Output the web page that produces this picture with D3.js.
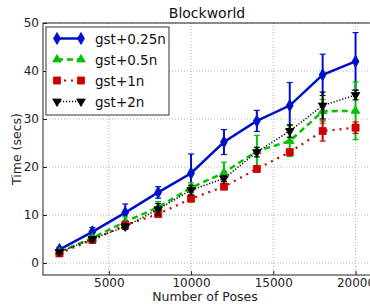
<!DOCTYPE html>
<html>
<head>
<meta charset="utf-8">
<script src="https://cdn.jsdelivr.net/npm/d3@7"></script>
<style>
  body { margin: 0; background: #fff; }
  svg { display: block; font-family: "DejaVu Sans", sans-serif; }
</style>
</head>
<body>
<div id="chart"></div>
<script>
// values
var poses = [2000, 4000, 6000, 8000, 10000, 12000, 14000, 16000, 18000, 20000];
var seriesNames = ["gst+0.25n", "gst+0.5n", "gst+1n", "gst+2n"];
var quarterN = [2.8, 6.5, 10.5, 14.7, 18.7, 25.2, 29.6, 32.8, 39.2, 42.0];
var quarterErr = [0.5, 0.9, 1.8, 1.2, 4.0, 2.6, 2.2, 4.8, 4.3, 6.0];
var halfN = [2.3, 5.2, 8.6, 11.6, 15.7, 18.8, 23.3, 25.4, 31.6, 31.7];
var halfErr = [0.3, 0.5, 1.0, 1.2, 1.0, 2.2, 3.3, 3.2, 2.5, 6.0];
var oneN = [2.0, 4.8, 7.9, 10.2, 13.4, 15.9, 19.6, 23.1, 27.5, 28.2];
var oneErr = [0.3, 0.4, 0.8, 0.6, 0.6, 0.5, 0.6, 0.6, 2.1, 1.2];
var twoN = [2.3, 5.0, 7.6, 11.2, 15.2, 17.6, 23.1, 27.5, 32.8, 35.0];
var twoErr = [0.3, 0.4, 0.6, 1.2, 1.0, 0.6, 1.0, 1.3, 2.8, 1.0];
var xTicks = [5000, 10000, 15000, 20000];
var yTicks = [0, 10, 20, 30, 40, 50];

(function() {
var width = 370, height = 308;
var pLeft = 43, pTop = 23, pRight = 372, pBottom = 275;

var svg = d3.select("#chart").append("svg")
  .attr("width", width).attr("height", height);

var x = d3.scaleLinear().domain([1000, 21000]).range([pLeft, pRight]);
var y = d3.scaleLinear().domain([-2.5, 50]).range([pBottom, pTop]);

// grid
var grid = svg.append("g");
xTicks.forEach(function(t) {
  grid.append("line").attr("x1", x(t)).attr("x2", x(t)).attr("y1", pTop).attr("y2", pBottom)
    .attr("stroke", "#b0b0b0").attr("stroke-width", 1).attr("stroke-dasharray", "1,2");
});
yTicks.forEach(function(t) {
  grid.append("line").attr("x1", pLeft).attr("x2", pRight).attr("y1", y(t)).attr("y2", y(t))
    .attr("stroke", "#b0b0b0").attr("stroke-width", 1).attr("stroke-dasharray", "1,2");
});

// axes (ticks inward)
var xAxis = svg.append("g").attr("transform", "translate(0," + pBottom + ")")
  .call(d3.axisBottom(x).tickValues(xTicks).tickFormat(d3.format("d"))
    .tickSizeInner(-4).tickSizeOuter(0).tickPadding(3));
var yAxis = svg.append("g").attr("transform", "translate(" + pLeft + ",0)")
  .call(d3.axisLeft(y).tickValues(yTicks).tickFormat(d3.format("d"))
    .tickSizeInner(-4).tickSizeOuter(0).tickPadding(4));
[xAxis, yAxis].forEach(function(a) {
  a.select(".domain").remove();
  a.selectAll("text").attr("font-size", 12).attr("fill", "#222")
    .attr("font-family", "DejaVu Sans, sans-serif");
  a.selectAll("line").attr("stroke", "#222");
});

// frame
svg.append("rect").attr("x", pLeft).attr("y", pTop)
  .attr("width", pRight - pLeft).attr("height", pBottom - pTop)
  .attr("fill", "none").attr("stroke", "#222").attr("stroke-width", 1);

var series = [
  { name: seriesNames[0], vals: quarterN, err: quarterErr, color: "#0010c8", dash: null, lw: 2.5, sym: d3.symbolDiamond, size: 42, rot: 0 },
  { name: seriesNames[1], vals: halfN, err: halfErr, color: "#00c000", dash: "6,4", lw: 2.5, sym: d3.symbolTriangle, size: 32, rot: 0 },
  { name: seriesNames[2], vals: oneN, err: oneErr, color: "#cc0000", dash: "2,5", lw: 2.2, sym: d3.symbolSquare, size: 50, rot: 0 },
  { name: seriesNames[3], vals: twoN, err: twoErr, color: "#000000", dash: "1.2,1.8", lw: 1.5, sym: d3.symbolTriangle, size: 32, rot: 180 }
];

var line = d3.line().x(function(d) { return x(d[0]); }).y(function(d) { return y(d[1]); });

series.forEach(function(s) {
  var g = svg.append("g");
  var pts = poses.map(function(p, i) { return [p, s.vals[i], s.err[i]]; });
  g.selectAll("line.err").data(pts).enter().append("line")
    .attr("x1", function(d) { return x(d[0]); }).attr("x2", function(d) { return x(d[0]); })
    .attr("y1", function(d) { return y(d[1] - d[2]); }).attr("y2", function(d) { return y(d[1] + d[2]); })
    .attr("stroke", s.color).attr("stroke-width", 2);
  g.selectAll("line.cap").data(pts.concat(pts.map(function(d) { return [d[0], d[1], -d[2]]; })))
    .enter().append("line")
    .attr("x1", function(d) { return x(d[0]) - 3; }).attr("x2", function(d) { return x(d[0]) + 3; })
    .attr("y1", function(d) { return y(d[1] + d[2]); }).attr("y2", function(d) { return y(d[1] + d[2]); })
    .attr("stroke", s.color).attr("stroke-width", 1.2);
  g.append("path").datum(pts).attr("d", line)
    .attr("fill", "none").attr("stroke", s.color).attr("stroke-width", s.lw)
    .attr("stroke-dasharray", s.dash);
  g.selectAll("path.m").data(pts).enter().append("path")
    .attr("d", d3.symbol().type(s.sym).size(s.size))
    .attr("transform", function(d) { return "translate(" + x(d[0]) + "," + y(d[1]) + ") rotate(" + s.rot + ")"; })
    .attr("fill", s.color).attr("stroke", s.color).attr("stroke-width", 0.8);
});

// title & labels
svg.append("text").attr("x", 207).attr("y", 18).attr("text-anchor", "middle")
  .attr("font-size", 14).attr("fill", "#111").text("Blockworld");
svg.append("text").attr("x", 205).attr("y", 301).attr("text-anchor", "middle")
  .attr("font-size", 12.5).attr("fill", "#222").text("Number of Poses");
svg.append("text").attr("transform", "translate(21,149) rotate(-90)").attr("text-anchor", "middle")
  .attr("font-size", 12.5).attr("fill", "#222").text("Time (secs)");

// legend
var lg = svg.append("g");
lg.append("rect").attr("x", 46).attr("y", 27).attr("width", 123).attr("height", 88)
  .attr("fill", "#fff").attr("stroke", "#333").attr("stroke-width", 1);
series.forEach(function(s, i) {
  var ly = 38.5 + i * 21;
  lg.append("line").attr("x1", 57).attr("x2", 81).attr("y1", ly).attr("y2", ly)
    .attr("stroke", s.color).attr("stroke-width", s.lw).attr("stroke-dasharray", s.dash);
  [57, 81].forEach(function(mx) {
    lg.append("path").attr("d", d3.symbol().type(s.sym).size(s.size))
      .attr("transform", "translate(" + mx + "," + ly + ") rotate(" + s.rot + ")")
      .attr("fill", s.color).attr("stroke", s.color).attr("stroke-width", 0.8);
  });
  lg.append("text").attr("x", 95).attr("y", ly + 5).attr("font-size", 13.5)
    .attr("fill", "#111").text(s.name);
});
})();
</script>
</body>
</html>
